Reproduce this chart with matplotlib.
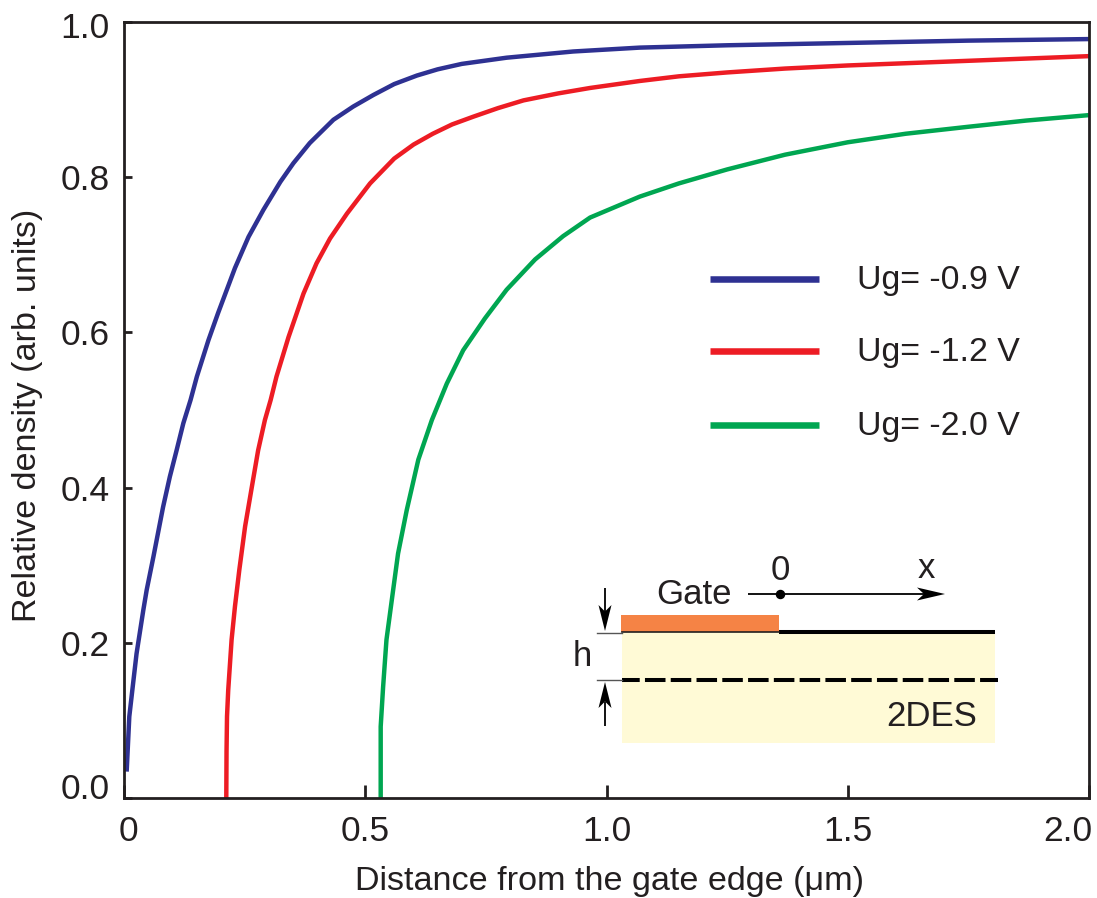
import matplotlib
matplotlib.use('Agg')
import matplotlib.pyplot as plt
from matplotlib.patches import Rectangle, Polygon
from matplotlib.transforms import ScaledTranslation

plt.rcParams['font.family'] = ['Liberation Sans', 'DejaVu Sans']

# valores
x_09 = [0.0055, 0.011, 0.018, 0.026, 0.040, 0.047, 0.061, 0.071, 0.081, 0.095, 0.109, 0.123, 0.138, 0.151, 0.175, 0.195,
        0.230, 0.258, 0.289, 0.324, 0.351, 0.385, 0.434, 0.475, 0.517, 0.560, 0.607, 0.650, 0.700, 0.793, 0.931, 1.069,
        1.25, 1.5, 1.75, 2.0]
y_09 = [0.034, 0.105, 0.143, 0.186, 0.242, 0.268, 0.311, 0.343, 0.375, 0.414, 0.448, 0.483, 0.513, 0.543, 0.590, 0.625,
        0.683, 0.723, 0.758, 0.794, 0.818, 0.844, 0.874, 0.891, 0.906, 0.920, 0.931, 0.939, 0.946, 0.954, 0.962, 0.967,
        0.970, 0.973, 0.976, 0.978]
x_12 = [0.212, 0.2125, 0.2135, 0.216, 0.223, 0.230, 0.239, 0.251, 0.265, 0.278, 0.292, 0.304, 0.316, 0.341, 0.372, 0.399,
        0.427, 0.462, 0.510, 0.560, 0.600, 0.640, 0.680, 0.724, 0.775, 0.828, 0.900, 0.966, 1.069, 1.15, 1.25, 1.37,
        1.5, 1.75, 2.0]
y_12 = [0.0, 0.06, 0.105, 0.139, 0.204, 0.247, 0.294, 0.350, 0.401, 0.448, 0.487, 0.513, 0.543, 0.594, 0.650, 0.689,
        0.721, 0.753, 0.792, 0.824, 0.842, 0.856, 0.868, 0.878, 0.889, 0.899, 0.908, 0.915, 0.924, 0.930, 0.935, 0.940,
        0.944, 0.950, 0.956]
x_20 = [0.532, 0.532, 0.537, 0.541, 0.544, 0.555, 0.568, 0.586, 0.610, 0.638, 0.669, 0.703, 0.748, 0.793, 0.852, 0.910,
        0.966, 1.069, 1.15, 1.25, 1.37, 1.5, 1.62, 1.75, 1.87, 2.0]
y_20 = [0.0, 0.092, 0.143, 0.178, 0.204, 0.255, 0.315, 0.371, 0.436, 0.487, 0.534, 0.577, 0.618, 0.655, 0.694, 0.724,
        0.748, 0.775, 0.792, 0.810, 0.829, 0.845, 0.856, 0.865, 0.873, 0.880]

etiquetas = ['Ug= -0.9 V', 'Ug= -1.2 V', 'Ug= -2.0 V']
colores = ['#2E3192', '#ED1C24', '#00A651']
x_ticks = [0, 0.5, 1.0, 1.5, 2.0]
x_tick_labels = ['0', '0.5', '1.0', '1.5', '2.0']
y_ticks = [0.0, 0.2, 0.4, 0.6, 0.8, 1.0]

TINTA = '#231F20'
W, H = 1097, 898


def mover(label, dx, dy):
    # desplazamiento en pixeles
    label.set_transform(label.get_transform() + ScaledTranslation(dx / 100, dy / 100, fig.dpi_scale_trans))


def flecha(eje, x0, y0, x1, y1, largo, ancho):
    # linea con punta en forma de flecha con muesca
    d = ((x1 - x0) ** 2 + (y1 - y0) ** 2) ** 0.5
    ux, uy = (x1 - x0) / d, (y1 - y0) / d
    nx, ny = -uy, ux
    bx, by = x1 - ux * largo, y1 - uy * largo
    mx, my = x1 - ux * largo * 0.75, y1 - uy * largo * 0.75
    eje.plot([x0, mx], [y0, my], color='black', lw=1.3, solid_capstyle='butt')
    eje.add_patch(Polygon([(x1, y1), (bx + nx * ancho / 2, by + ny * ancho / 2), (mx, my),
                           (bx - nx * ancho / 2, by - ny * ancho / 2)], closed=True, fc='black', ec='none'))


fig = plt.figure(figsize=(W / 100, H / 100), dpi=100)
ax = fig.add_axes([124 / W, 1 - 798 / H, (1089 - 124) / W, (798 - 22) / H])

for xs, ys, c in zip([x_09, x_12, x_20], [y_09, y_12, y_20], colores):
    ax.plot(xs, ys, color=c, lw=3.2, solid_capstyle='butt')

ax.set_xlim(0, 2.0)
ax.set_ylim(0, 1.0)
ax.set_xticks(x_ticks)
ax.set_xticklabels(x_tick_labels)
ax.set_yticks(y_ticks)
ax.set_yticklabels(['%.1f' % v for v in y_ticks])
ax.tick_params(axis='x', direction='in', length=9.5, width=2, colors=TINTA, labelsize=25.5, pad=12)
ax.tick_params(axis='y', direction='in', length=6, width=2, colors=TINTA, labelsize=25.5, pad=10.5)
for s in ax.spines.values():
    s.set_linewidth(2)
    s.set_color(TINTA)
ax.set_xlabel('Distance from the gate edge (\u03bcm)', fontsize=24.6, color=TINTA)
ax.set_ylabel('Relative density (arb. units)', fontsize=24.6, color=TINTA)
ax.xaxis.set_label_coords(0.5036, -0.088)
ax.yaxis.set_label_coords(-0.0836, 0.4936)

# mover las etiquetas de los extremos como en el original
ylabs = ax.get_yticklabels()
mover(ylabs[0], 0, 12)
mover(ylabs[-1], 0, -3)
xlabs = ax.get_xticklabels()
mover(xlabs[0], 4, 0)
mover(xlabs[-1], -21, 0)

# capa en pixeles para la leyenda y el esquema
ov = fig.add_axes([0, 0, 1, 1])
ov.set_xlim(0, W)
ov.set_ylim(H, 0)
ov.axis('off')
ov.patch.set_alpha(0)

for py, c, t in zip([279, 351, 425], colores, etiquetas):
    ov.plot([710, 819], [py, py], color=c, lw=4.7, solid_capstyle='butt')
    ov.text(857, py + 2, t, fontsize=24.4, color=TINTA, va='center', ha='left')

# esquema de la puerta
ov.add_patch(Rectangle((622, 632), 373, 111, fc='#FFFAD6', ec='none'))
ov.add_patch(Rectangle((621, 615), 158, 17, fc='#F58345', ec='none'))
ov.plot([779, 995], [632, 632], color='black', lw=2.9, solid_capstyle='butt')
ov.plot([622, 779], [632, 632], color=TINTA, lw=1.2)
ov.plot([622, 998], [680, 680], color='black', lw=2.9, ls=(0.7, (5.1, 1.3)), dash_capstyle='butt')
ov.plot([597, 622], [633, 633], color='#555555', lw=1)
ov.plot([597, 622], [680, 680], color='#555555', lw=1)
flecha(ov, 748, 594, 945, 594, 28, 13)
ov.plot([780], [594], 'o', color='black', ms=5.8)
flecha(ov, 605, 588, 605, 631, 26, 13)
flecha(ov, 605, 726, 605, 682, 26, 13)
ov.text(694, 595, 'Gate', fontsize=25, color=TINTA, ha='center', va='center')
ov.text(780, 570, '0', fontsize=25, color=TINTA, ha='center', va='center')
ov.text(926, 568, 'x', fontsize=25, color=TINTA, ha='center', va='center')
ov.text(582, 656, 'h', fontsize=25, color=TINTA, ha='center', va='center')
ov.text(932, 716, '2DES', fontsize=25, color=TINTA, ha='center', va='center')

fig.savefig('out.png', dpi=100)
